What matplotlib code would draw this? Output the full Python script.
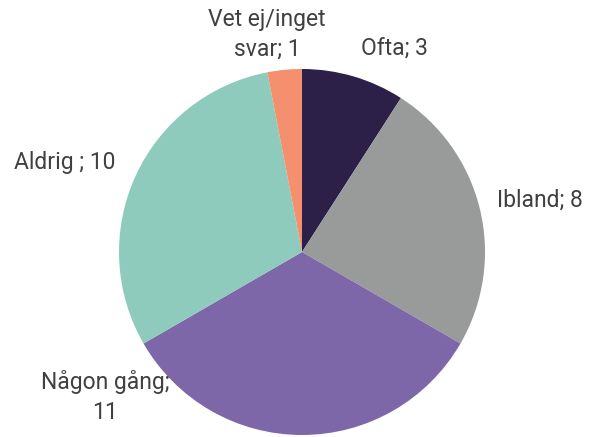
import matplotlib
matplotlib.use('Agg')
import matplotlib.pyplot as plt

plt.rcParams['font.family'] = ['Roboto', 'DejaVu Sans']

labels = ['Ofta; 3', 'Ibland; 8', 'Någon gång;\n11', 'Aldrig ; 10', 'Vet ej/inget\nsvar; 1']
values = [3, 8, 11, 10, 1]
colors = ['#2c1f48', '#999b9b', '#7e67a8', '#8fcbbd', '#f4906d']

# label centres in pixels
label_px = [(394, 48), (540, 200), (105, 397), (65, 162), (267, 34)]

W, H = 603, 437
cx, cy, r = 302, 252, 183

fig = plt.figure(figsize=(W / 100, H / 100), dpi=100)
ax = fig.add_axes([0, 0, 1, 1])
wedges, texts = ax.pie(values, labels=labels, colors=colors, startangle=90,
                       counterclock=False, radius=1,
                       textprops=dict(fontsize=16.5, color='#404040'))
for t, (px, py) in zip(texts, label_px):
    t.set_position(((px - cx) / r, (cy - py) / r))
    t.set_ha('center')
    t.set_va('center')
    t.set_linespacing(1.35)
ax.set_xlim(-cx / r, (W - cx) / r)
ax.set_ylim(-(H - cy) / r, cy / r)
ax.set_aspect('auto')
ax.axis('off')
fig.savefig('out.png', dpi=100)
